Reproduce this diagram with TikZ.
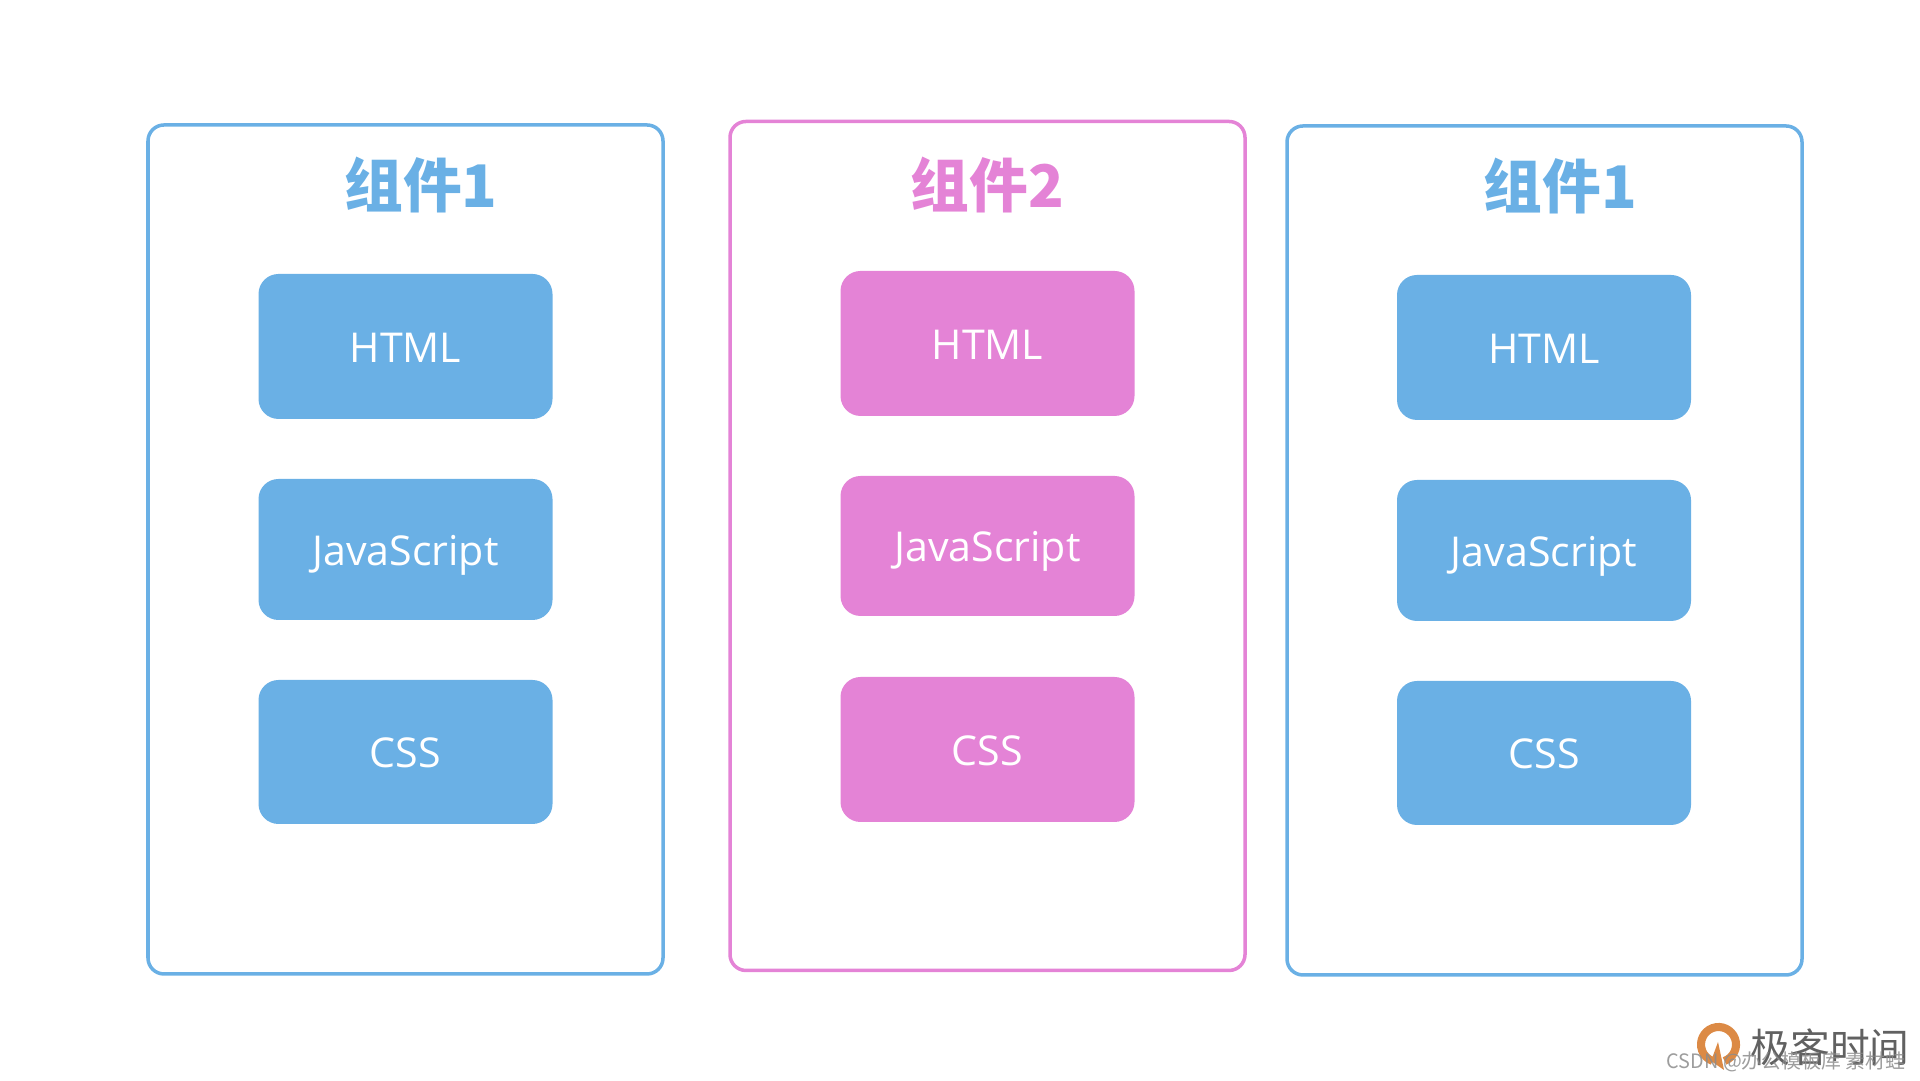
\documentclass[tikz,border=0pt]{standalone}
\usepackage{fontspec}
\setmainfont{Open Sans}
\newfontfamily\cjkfont{Noto Sans CJK SC}
\usetikzlibrary{shapes}
\definecolor{compblue}{HTML}{6AB0E5}
\definecolor{comppink}{HTML}{E483D6}
\definecolor{logoorange}{HTML}{DC8A45}
\tikzset{
  panel/.style={shape=rectangle,draw=#1,rounded corners=0.16cm,line width=1pt,minimum width=5.15cm,minimum height=8.49cm},
  tag/.style={shape=rectangle,fill=#1,rounded corners=0.2cm,text=white,font=\fontsize{11.7}{14}\selectfont,minimum width=2.94cm,inner sep=0pt,text height=0.32cm,text depth=0pt},
  headline/.style={text=#1,font=\cjkfont\bfseries\fontsize{16.7}{20}\selectfont,inner sep=0pt},
}
\begin{document}
\begin{tikzpicture}
\useasboundingbox (0,0) rectangle (19.2,10.81);
\node[panel=compblue] (panel1) at (4.055,5.315) {};
\node[panel=comppink] (panel2) at (9.875,5.35) {};
\node[panel=compblue] (panel3) at (15.445,5.305) {};

\node[headline=compblue] (title1) at (4.21,8.96) {组件1};
\node[headline=comppink] (title2) at (9.875,8.96) {组件2};
\node[headline=compblue] (title3) at (15.605,8.95) {组件1};

\node[tag=compblue,minimum height=1.45cm] (html1) at (4.055,7.345) {HTML};
\node[tag=compblue,minimum height=1.41cm] (js1) at (4.055,5.315) {JavaScript};
\node[tag=compblue,minimum height=1.44cm] (css1) at (4.055,3.29) {CSS};

\node[tag=comppink,minimum height=1.45cm] (html2) at (9.875,7.375) {HTML};
\node[tag=comppink,minimum height=1.40cm] (js2) at (9.875,5.35) {JavaScript};
\node[tag=comppink,minimum height=1.45cm] (css2) at (9.875,3.315) {CSS};

\node[tag=compblue,minimum height=1.45cm] (html3) at (15.44,7.335) {HTML};
\node[tag=compblue,minimum height=1.41cm] (js3) at (15.44,5.305) {JavaScript};
\node[tag=compblue,minimum height=1.44cm] (css3) at (15.44,3.28) {CSS};

\draw[logoorange,line width=2.3pt] (17.245,0.2005) arc (-70:250:0.175);
\fill[logoorange] (17.18,0.39) -- (17.24,0.11) -- (17.11,0.20) -- cycle;

\node[text=black!62,font=\cjkfont\fontsize{11.3}{14}\selectfont,inner sep=0pt] (brand) at (18.30,0.335) {极客时间};
\node[text=black!45,opacity=0.85,font=\cjkfont\fontsize{5.65}{8}\selectfont,inner sep=0pt] (mark) at (17.86,0.19) {CSDN @办公模板库 素材蛙};
\end{tikzpicture}
\end{document}
